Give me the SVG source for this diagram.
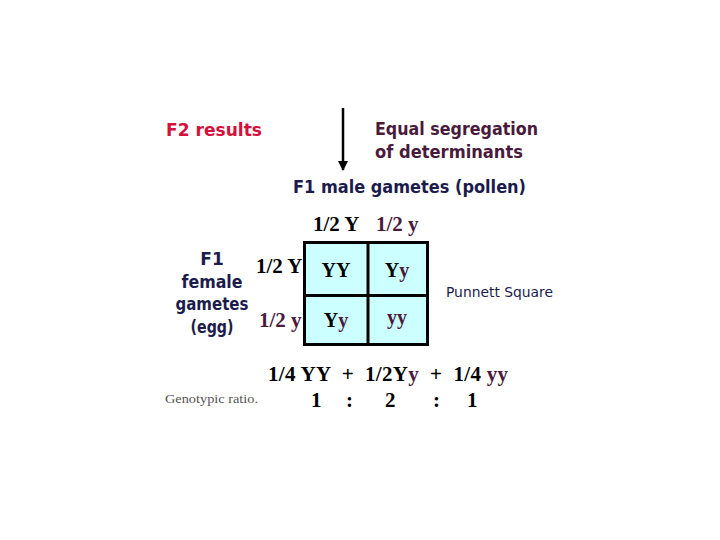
<svg xmlns="http://www.w3.org/2000/svg" width="720" height="540" viewBox="0 0 720 540">
<style>
.comic{font-family:"DejaVu Sans","Noto Sans",sans-serif;font-weight:bold;}
.comic-r{font-family:"DejaVu Sans","Noto Sans",sans-serif;font-weight:normal;}
.tb{font-family:"Liberation Serif","Times New Roman",serif;font-weight:bold;fill:#000;}
.p{fill:#4a1a3c;}
.navy{fill:#1c1c4c;}
</style>
<defs>
<marker id="ah" viewBox="0 0 10 10" refX="9" refY="5" markerWidth="4" markerHeight="4" orient="auto">
<path d="M0,0 L10,5 L0,10 z" fill="#000"/>
</marker>
</defs>
<rect width="720" height="540" fill="#fff"/>
<g id="f2-results"><text class="comic" x="166" y="136" font-size="17" fill="#d4103c" textLength="96" lengthAdjust="spacingAndGlyphs">F2 results</text></g>
<g id="equal-seg"><text class="comic p" x="375" y="135" font-size="17" textLength="163" lengthAdjust="spacingAndGlyphs">Equal segregation</text><text class="comic p" x="375" y="158" font-size="17" textLength="148" lengthAdjust="spacingAndGlyphs">of determinants</text></g>
<g id="connectors"><line x1="343" y1="108" x2="343" y2="170" stroke="#000" stroke-width="2.5" marker-end="url(#ah)"/></g>
<g id="male-gametes"><text class="comic navy" x="293" y="193" font-size="17" textLength="233" lengthAdjust="spacingAndGlyphs">F1 male gametes (pollen)</text>
<text class="tb" x="313" y="231" font-size="21">1/2 Y</text><text class="tb p" x="376" y="231" font-size="21">1/2 y</text></g>
<g id="female-gametes">
<text class="comic navy" x="212" y="265" font-size="17" text-anchor="middle">F1</text>
<text class="comic navy" x="212" y="288" font-size="17" text-anchor="middle" textLength="61" lengthAdjust="spacingAndGlyphs">female</text>
<text class="comic navy" x="212" y="310" font-size="17" text-anchor="middle" textLength="73" lengthAdjust="spacingAndGlyphs">gametes</text>
<text class="comic navy" x="212" y="333" font-size="17" text-anchor="middle" textLength="43" lengthAdjust="spacingAndGlyphs">(egg)</text>
<text class="tb" x="256" y="273" font-size="21">1/2 Y</text><text class="tb p" x="259" y="327" font-size="21">1/2 y</text></g>
<g id="punnett-grid">
<rect x="304.5" y="242.5" width="123" height="102" fill="#ccffff" stroke="#000" stroke-width="3"/>
<line x1="368" y1="242" x2="368" y2="345" stroke="#000" stroke-width="3"/>
<line x1="304" y1="295.5" x2="428" y2="295.5" stroke="#000" stroke-width="3"/>
<text class="tb" x="336" y="277" font-size="20" text-anchor="middle">YY</text>
<text class="tb" x="397" y="277" font-size="20" text-anchor="middle">Y<tspan class="p">y</tspan></text>
<text class="tb" x="336" y="327" font-size="20" text-anchor="middle">Y<tspan class="p">y</tspan></text>
<text class="tb p" x="397" y="324" font-size="20" text-anchor="middle">yy</text>
</g>
<g id="punnett-label"><text class="comic-r navy" x="446" y="297" font-size="14" textLength="107" lengthAdjust="spacingAndGlyphs">Punnett Square</text></g>
<g id="ratio">
<text class="tb" x="268" y="381" font-size="21" xml:space="preserve" textLength="240" lengthAdjust="spacing">1/4 YY  +  1/2Y<tspan class="p">y</tspan>  +  1/4 <tspan class="p">yy</tspan></text>
<text x="165" y="403" font-family="Liberation Serif,serif" font-size="12" fill="#555" textLength="93" lengthAdjust="spacingAndGlyphs">Genotypic ratio.</text>
<text class="tb" font-size="21"><tspan x="311" y="407">1</tspan><tspan x="346" y="407">:</tspan><tspan x="385" y="407">2</tspan><tspan x="433" y="407">:</tspan><tspan x="467" y="407">1</tspan></text>
</g>
</svg>
